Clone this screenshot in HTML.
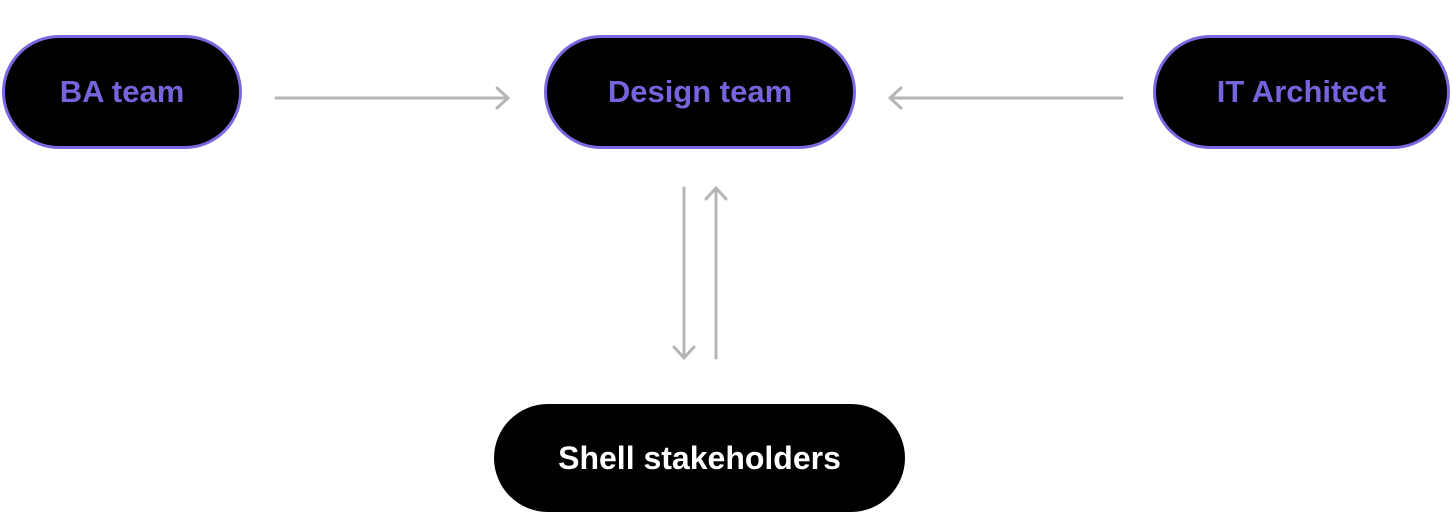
<!DOCTYPE html>
<html><head><style>
body{margin:0;width:1452px;height:516px;background:#fff;position:relative;overflow:hidden;font-family:"Liberation Sans",sans-serif}
.n{position:absolute;box-sizing:border-box;background:#000;border-radius:60px;display:flex;align-items:center;justify-content:center;font-weight:bold;font-size:31px}
.p{border:3px solid #7b68e0;color:#7565dc}
.l{position:absolute;color:#fff;font-size:24px;line-height:40px}
</style></head><body>
<div class="n p" style="left:2px;top:35px;width:240px;height:114px">BA team</div>
<div class="n p" style="left:544px;top:35px;width:312px;height:114px">Design team</div>
<div class="n p" style="left:1153px;top:35px;width:297px;height:114px">IT Architect</div>
<div class="n" style="left:494px;top:404px;width:411px;height:108px;color:#fff;font-size:32px">Shell stakeholders</div>
<svg width="1452" height="516" style="position:absolute;left:0;top:0">
<g stroke="#b5b5b5" stroke-width="3" fill="none" stroke-linecap="round" stroke-linejoin="round">
<line x1="276" y1="98" x2="508" y2="98"/><polyline points="497,88 508,98 497,108"/>
<line x1="1122" y1="98" x2="890" y2="98"/><polyline points="901,88 890,98 901,108"/>
<line x1="684" y1="188" x2="684" y2="358"/><polyline points="674,347 684,358 694,347"/>
<line x1="716" y1="358" x2="716" y2="188"/><polyline points="706,199 716,188 726,199"/>
</g></svg>
<div class="l" style="left:305px;top:0">User insights<br>operation logic</div>
<div class="l" style="left:910px;top:40px">feasibility check</div>
<div class="l" style="left:560px;top:244px">present</div>
<div class="l" style="left:745px;top:244px">feedback</div>
</body></html>
